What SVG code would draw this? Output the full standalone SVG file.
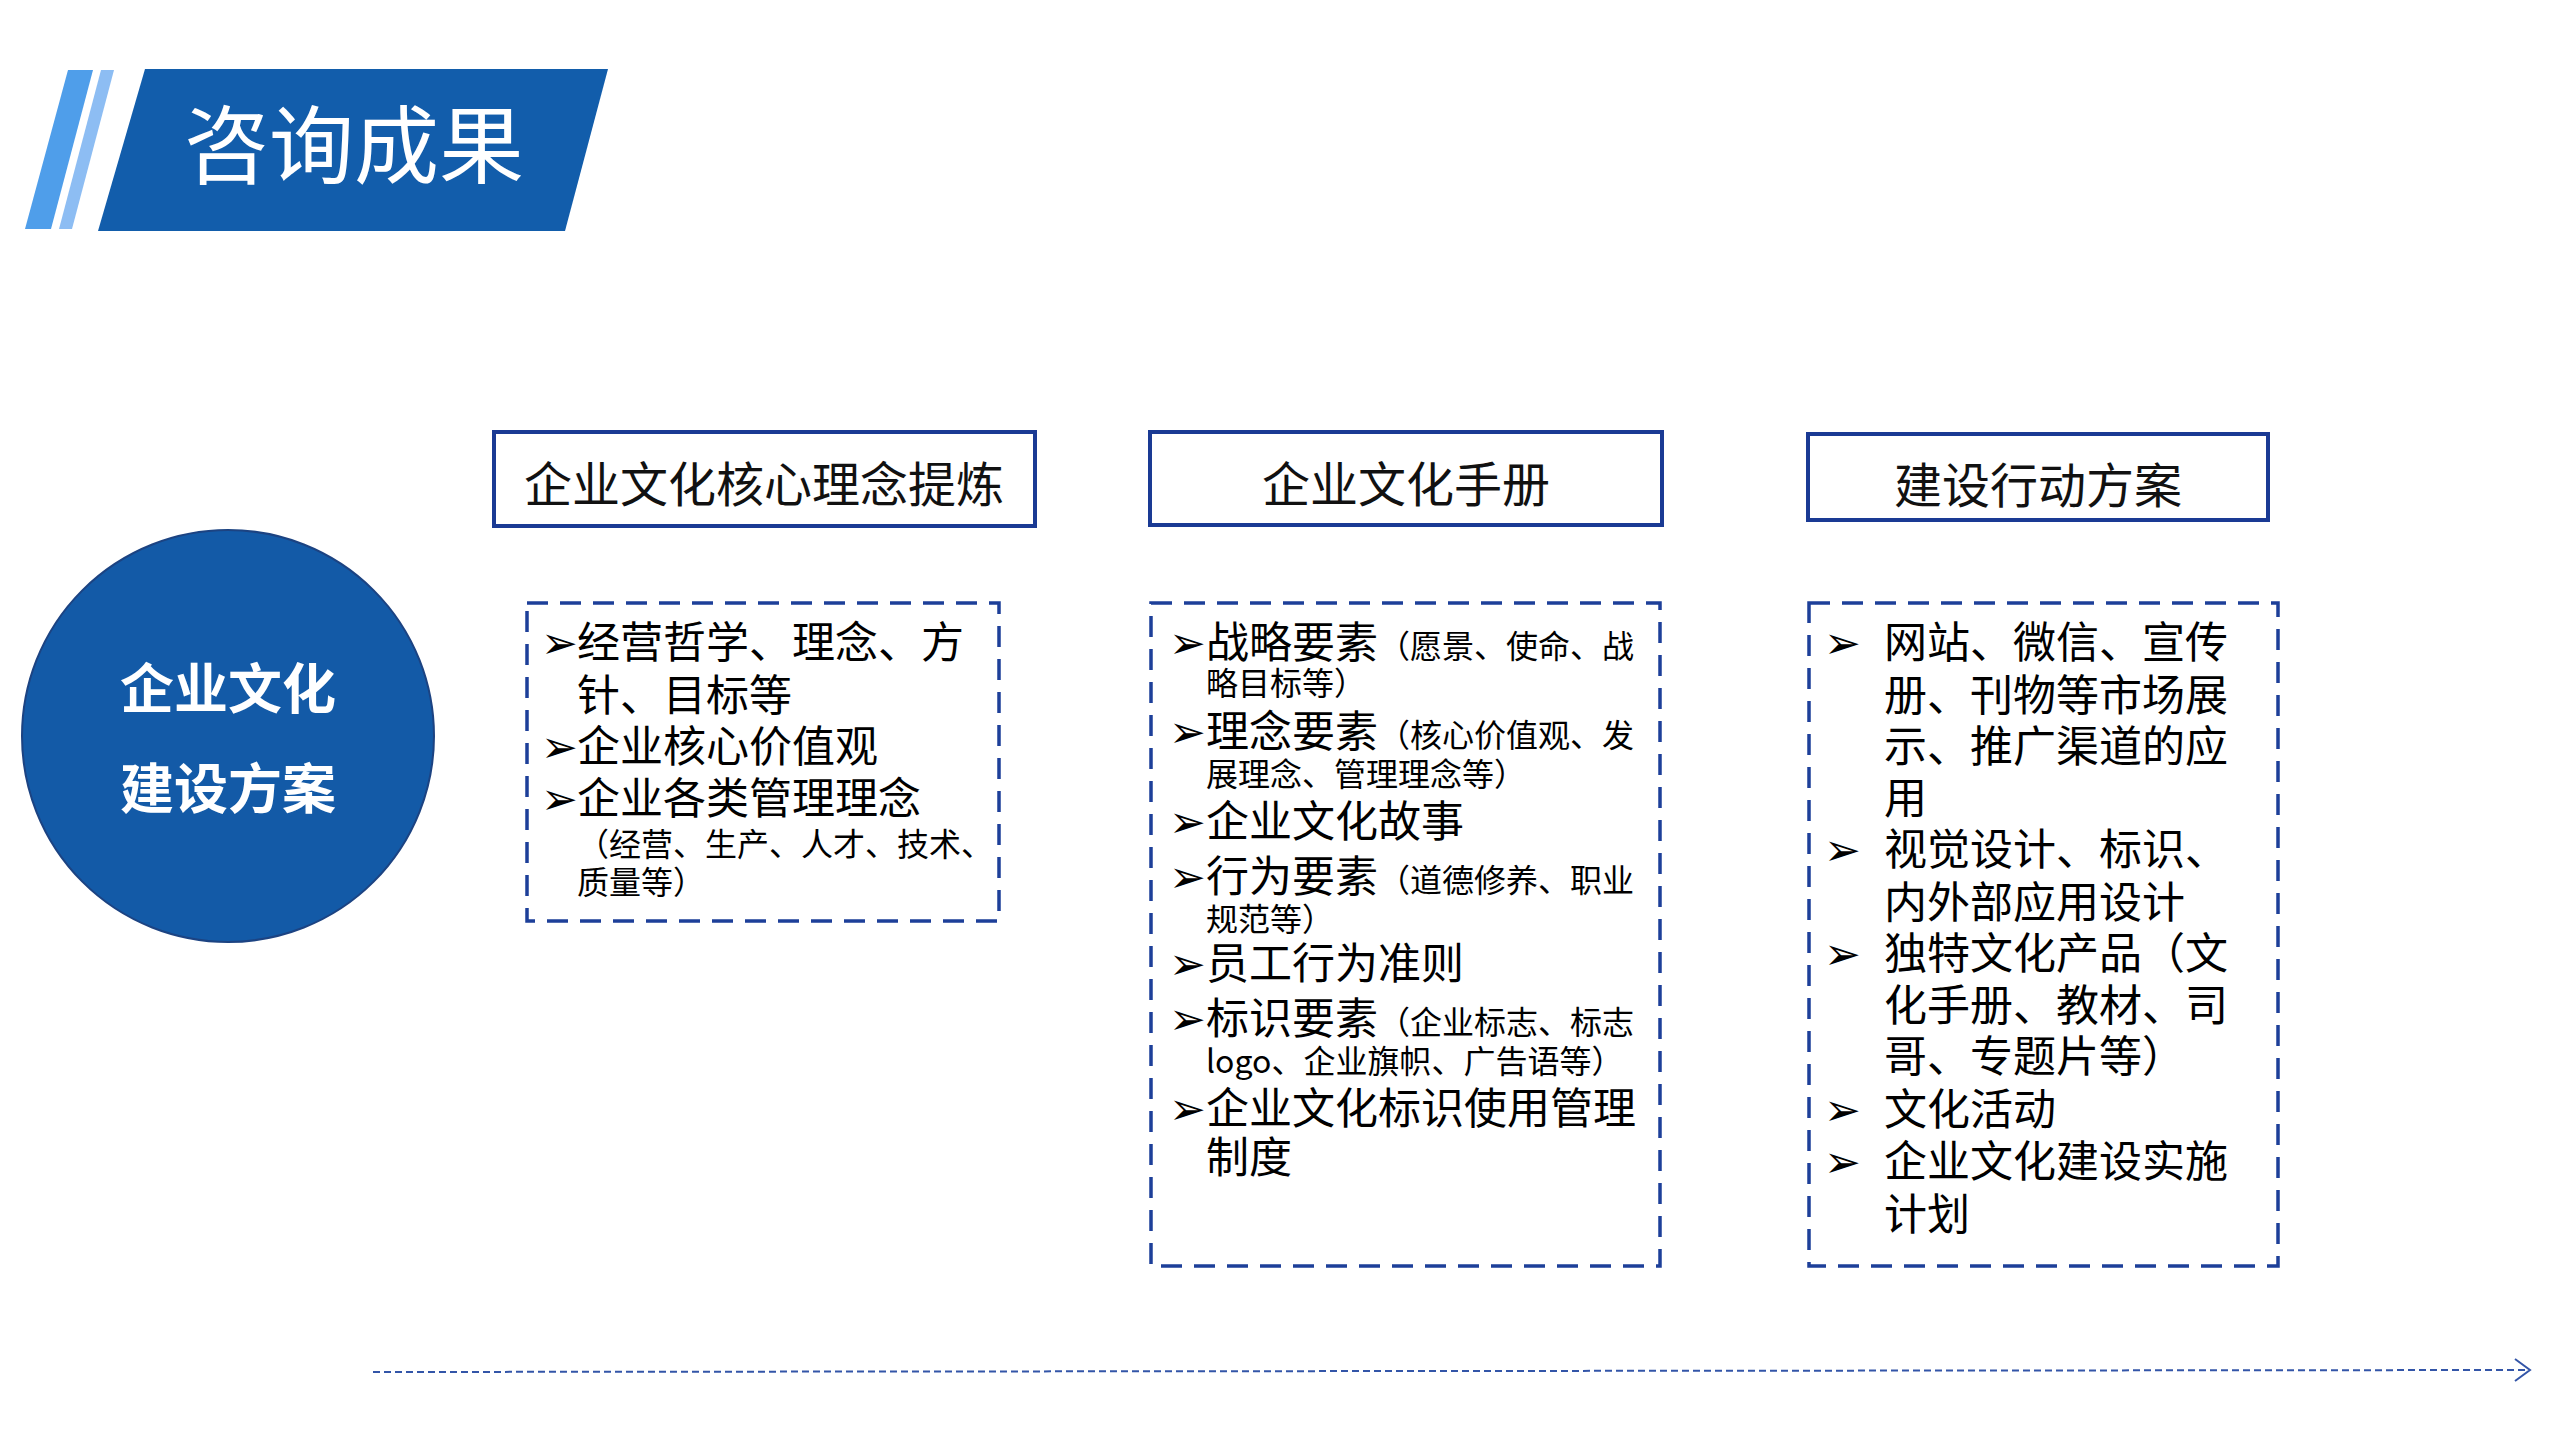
<svg xmlns="http://www.w3.org/2000/svg" width="2560" height="1440" viewBox="0 0 2560 1440">
<style>
.cjk{font-family:"Noto Sans CJK SC","Noto Sans",sans-serif;}
.hdr{fill:#fff;stroke:#1a3a94;stroke-width:4;}
.hdrt{font-size:48px;fill:#111;text-anchor:middle;}
.dash{fill:#fff;stroke:#1d3f99;stroke-width:3.5;stroke-dasharray:21 12;}
.b{font-size:43px;fill:#000;}
.s{font-size:32px;}
.ar{font-family:"DejaVu Sans",sans-serif;font-size:44px;font-weight:bold;}
</style>
<rect width="2560" height="1440" fill="#fff"/>
<g id="title">
<polygon points="68,70 93,70 51,229 25,229" fill="#4f9eea"/>
<polygon points="101,70 114,70 72,229 59,229" fill="#8dbdf3"/>
<polygon points="145,69 608,69 565,231 98,231" fill="#125dab"/>
<text class="cjk" x="354" y="177" font-size="85" fill="#fff" text-anchor="middle">咨询成果</text>
</g>
<g id="circle">
<circle cx="228" cy="736" r="206" fill="#135aa7" stroke="#1c4382" stroke-width="2"/>
<text class="cjk" font-size="54" font-weight="bold" fill="#fff" text-anchor="middle"><tspan x="228" y="709">企业文化</tspan><tspan x="228" y="809">建设方案</tspan></text>
</g>
<g id="header1">
<rect class="hdr" x="494" y="432" width="541" height="94"/>
<text class="cjk hdrt" x="764" y="502">企业文化核心理念提炼</text>
</g>
<g id="header2">
<rect class="hdr" x="1150" y="432" width="512" height="93"/>
<text class="cjk hdrt" x="1406" y="502">企业文化手册</text>
</g>
<g id="header3">
<rect class="hdr" x="1808" y="434" width="460" height="86"/>
<text class="cjk hdrt" x="2038" y="503">建设行动方案</text>
</g>
<g id="box1">
<rect class="dash" x="527" y="603" width="472" height="318"/>
<text class="cjk b"><tspan class="ar" x="541" y="658">➢</tspan><tspan x="577" y="658">经营哲学、理念、方</tspan><tspan x="577" y="711">针、目标等</tspan><tspan class="ar" x="541" y="762">➢</tspan><tspan x="577" y="762">企业核心价值观</tspan><tspan class="ar" x="541" y="814">➢</tspan><tspan x="577" y="814">企业各类管理理念</tspan><tspan class="s" x="577" y="856">（经营、生产、人才、技术、</tspan><tspan class="s" x="577" y="894">质量等）</tspan></text>
</g>
<g id="box2">
<rect class="dash" x="1151" y="603" width="509" height="663"/>
<text class="cjk b"><tspan class="ar" x="1169" y="658">➢</tspan><tspan x="1206" y="658">战略要素</tspan><tspan class="s">（愿景、使命、战</tspan><tspan class="s" x="1206" y="695">略目标等）</tspan><tspan class="ar" x="1169" y="747">➢</tspan><tspan x="1206" y="747">理念要素</tspan><tspan class="s">（核心价值观、发</tspan><tspan class="s" x="1206" y="786">展理念、管理理念等）</tspan><tspan class="ar" x="1169" y="837">➢</tspan><tspan x="1206" y="837">企业文化故事</tspan><tspan class="ar" x="1169" y="892">➢</tspan><tspan x="1206" y="892">行为要素</tspan><tspan class="s">（道德修养、职业</tspan><tspan class="s" x="1206" y="931">规范等）</tspan><tspan class="ar" x="1169" y="979">➢</tspan><tspan x="1206" y="979">员工行为准则</tspan><tspan class="ar" x="1169" y="1034">➢</tspan><tspan x="1206" y="1034">标识要素</tspan><tspan class="s">（企业标志、标志</tspan><tspan class="s" x="1206" y="1073">logo、企业旗帜、广告语等）</tspan><tspan class="ar" x="1169" y="1124">➢</tspan><tspan x="1206" y="1124">企业文化标识使用管理</tspan><tspan x="1206" y="1173">制度</tspan></text>
</g>
<g id="box3">
<rect class="dash" x="1809" y="603" width="469" height="663"/>
<text class="cjk b"><tspan class="ar" x="1824" y="658">➢</tspan><tspan x="1884" y="658">网站、微信、宣传</tspan><tspan x="1884" y="711">册、刊物等市场展</tspan><tspan x="1884" y="762">示、推广渠道的应</tspan><tspan x="1884" y="814">用</tspan><tspan class="ar" x="1824" y="865">➢</tspan><tspan x="1884" y="865">视觉设计、标识、</tspan><tspan x="1884" y="918">内外部应用设计</tspan><tspan class="ar" x="1824" y="969">➢</tspan><tspan x="1884" y="969">独特文化产品（文</tspan><tspan x="1884" y="1021">化手册、教材、司</tspan><tspan x="1884" y="1072">哥、专题片等）</tspan><tspan class="ar" x="1824" y="1125">➢</tspan><tspan x="1884" y="1125">文化活动</tspan><tspan class="ar" x="1824" y="1177">➢</tspan><tspan x="1884" y="1177">企业文化建设实施</tspan><tspan x="1884" y="1230">计划</tspan></text>
</g>
<g id="connectors">
<line x1="373" y1="1372" x2="2529" y2="1370" stroke="#3355a8" stroke-width="2" stroke-dasharray="7 4"/>
<polyline points="2515,1359 2530,1370 2515,1381" fill="none" stroke="#3355a8" stroke-width="2"/>
</g>
</svg>
